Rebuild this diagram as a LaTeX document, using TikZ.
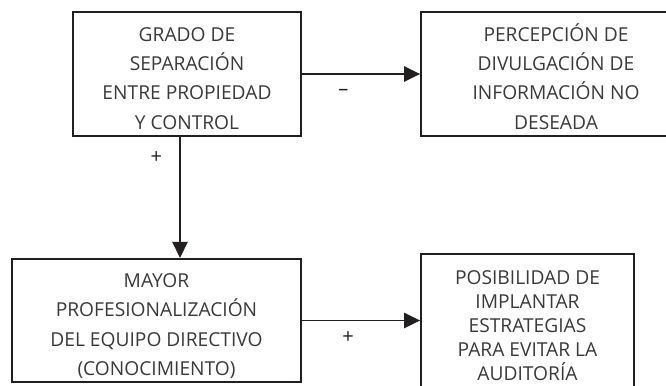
\documentclass[tikz,border=0pt]{standalone}
\usepackage{fontspec}
\setmainfont{Open Sans}
\usetikzlibrary{arrows.meta,positioning}
\definecolor{ink}{RGB}{35,31,32}
\definecolor{txt}{RGB}{58,58,58}
\newcommand{\topstrut}[1][21.5pt]{\rule{0pt}{#1}}
\newcommand{\botstrut}{\rule[-5pt]{0pt}{0pt}}
\tikzset{
  >={Triangle[length=12pt,width=11.5pt]},
  box/.style={draw=ink,line width=1.4pt,inner sep=0pt,align=center,text=txt,
    font=\fontsize{14.4}{22}\selectfont},
  link/.style={->,draw=ink,line width=1.1pt},
  sign/.style={font=\fontsize{15}{16}\selectfont,text=ink,inner sep=1pt},
}
\begin{document}
\begin{tikzpicture}[x=0.75pt,y=-0.75pt]
  \useasboundingbox (0,0) rectangle (666,385);
  \clip (0,0) rectangle (666,385);
  % upper row
  \node[box,minimum width=171pt,minimum height=91.5pt] (grado) at (187,74)
    {\topstrut GRADO DE\\SEPARACIÓN\\ENTRE PROPIEDAD\\Y CONTROL\botstrut};
  \node[box,minimum width=202.5pt,minimum height=91.5pt] (percep) at (556,74)
    {\topstrut PERCEPCIÓN DE\\DIVULGACIÓN DE\\INFORMACIÓN NO\\DESEADA\botstrut};
  % lower row
  \node[box,minimum width=216.75pt,minimum height=92.25pt] (mayor) at (156.5,320.5)
    {\topstrut MAYOR\\PROFESIONALIZACIÓN\\DEL EQUIPO DIRECTIVO\\(CONOCIMIENTO)\botstrut};
  \node[box,minimum width=159.75pt,minimum height=108pt,
    font=\fontsize{14.4}{18}\selectfont] (posib) at (527.5,326)
    {\topstrut[14pt]POSIBILIDAD DE\\IMPLANTAR\\ESTRATEGIAS\\PARA EVITAR LA\\AUDITORÍA\botstrut};
  % links
  \draw[link] (grado) -- node[sign,pos=0.35,below=10pt] {–} (percep);
  \draw[link] ([xshift=-5.25pt]grado.south) -- node[sign,pos=0.17,left=12pt] {+}
    ([xshift=-5.25pt]grado.south |- mayor.north);
  \draw[link] (mayor.east) -- node[sign,pos=0.39,below=7pt] {+} (mayor.east -| posib.west);
\end{tikzpicture}
\end{document}
